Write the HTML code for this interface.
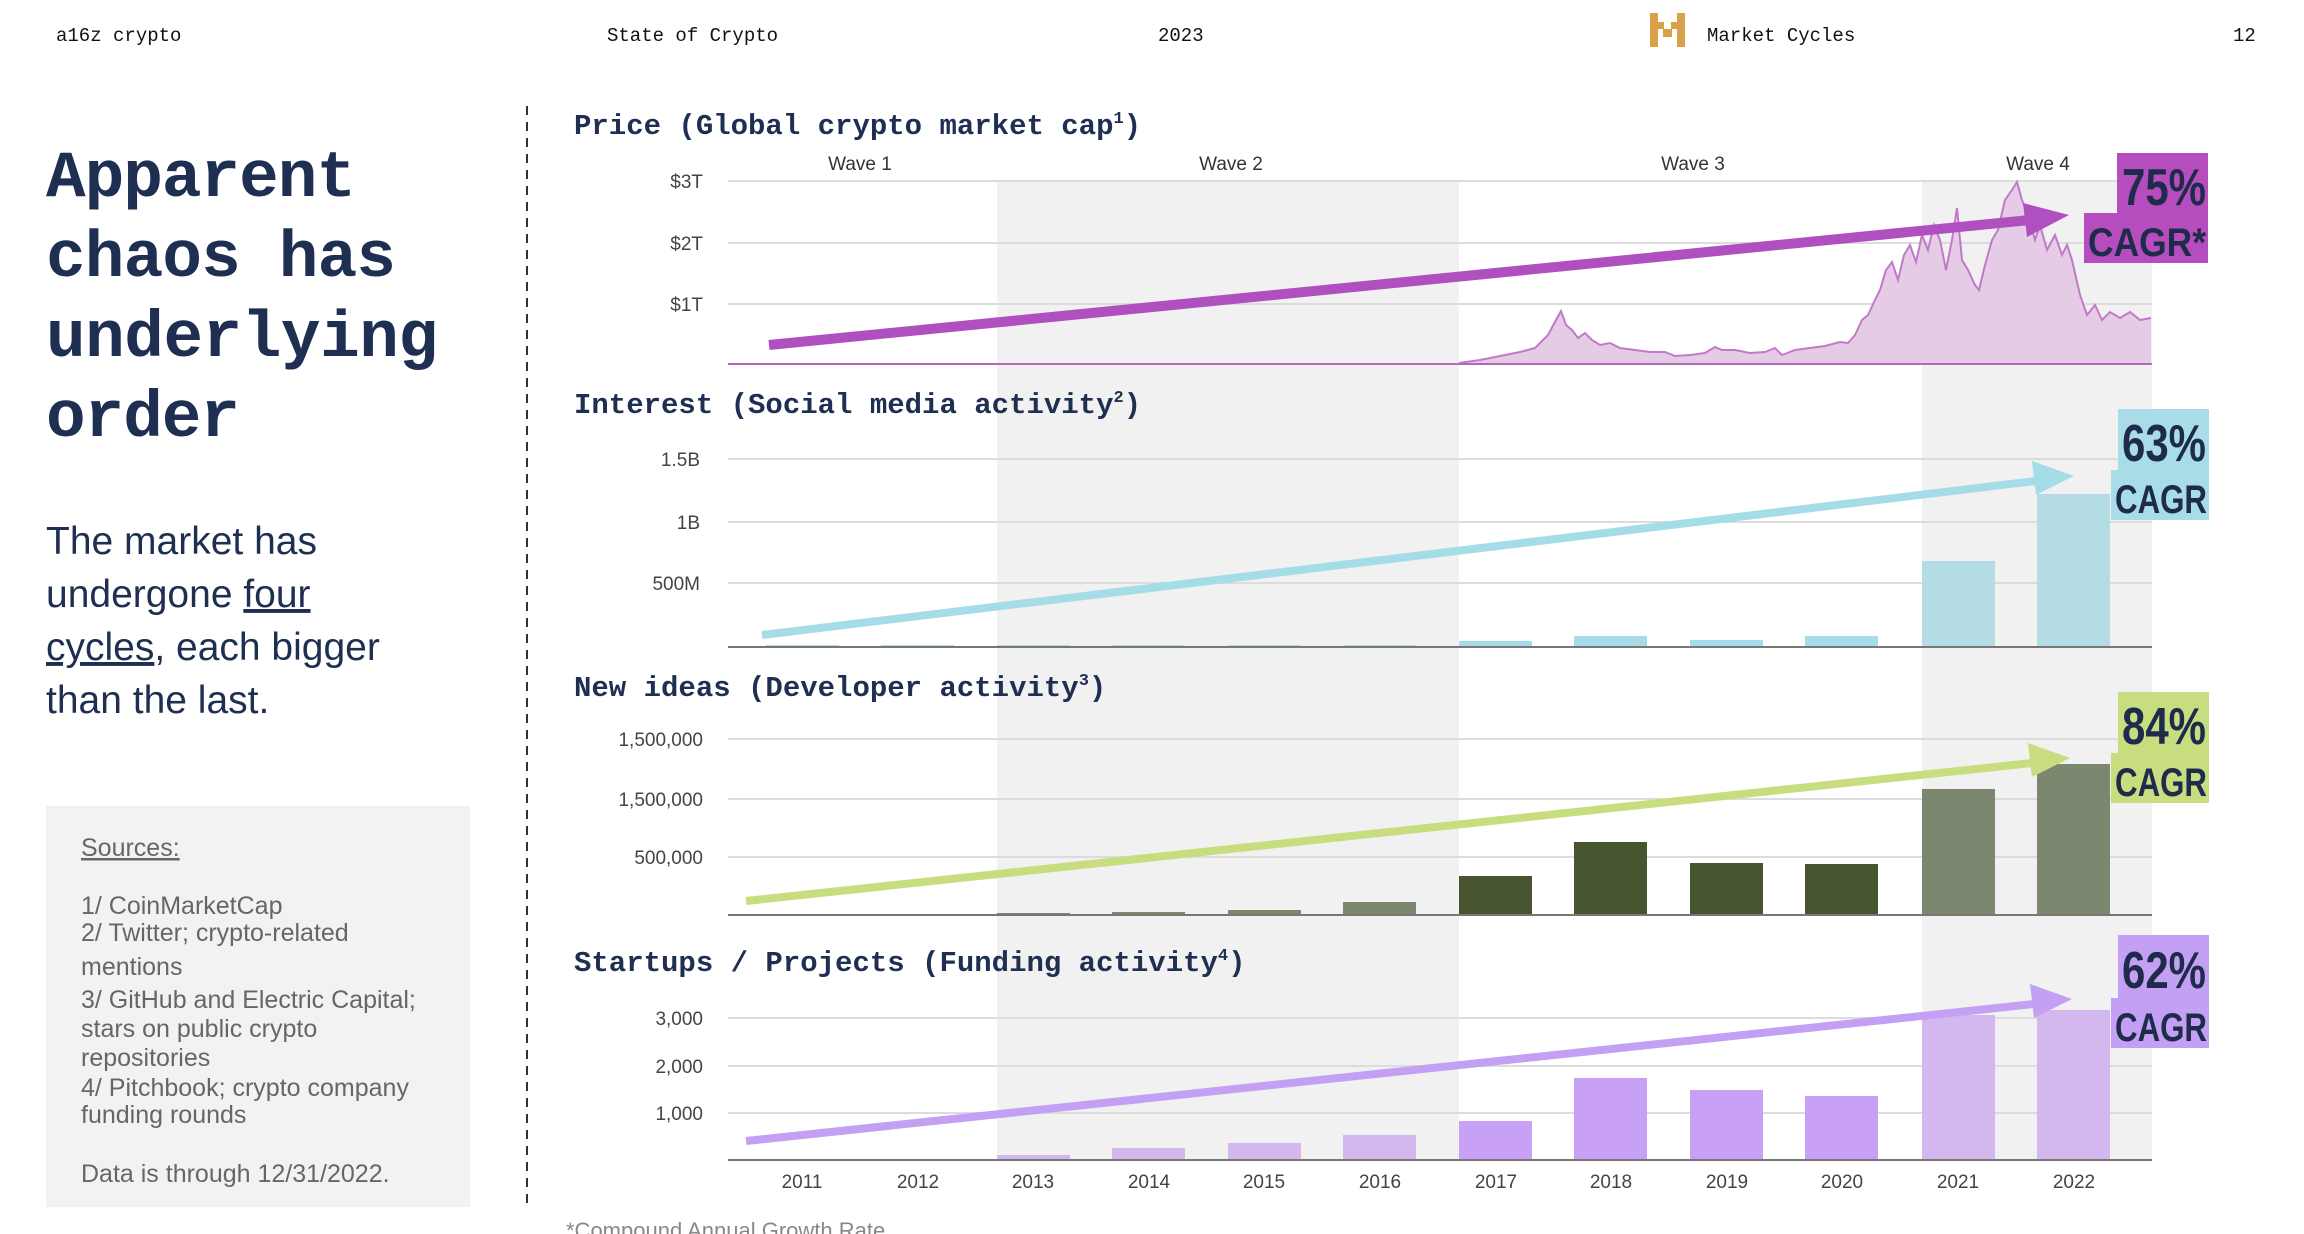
<!DOCTYPE html>
<html><head><meta charset="utf-8"><style>
html,body{margin:0;padding:0;background:#fff;}
body{width:2304px;height:1234px;overflow:hidden;position:relative;}
svg{position:absolute;left:0;top:0;}
.mono{font-family:"Liberation Mono","DejaVu Sans Mono",monospace;}
.sans{font-family:"Liberation Sans","DejaVu Sans",sans-serif;}
</style></head><body>
<svg width="2304" height="1234" viewBox="0 0 2304 1234" xmlns="http://www.w3.org/2000/svg">
<g class="mono" font-size="19" fill="#111">
<text x="56" y="41">a16z crypto</text>
<text x="607" y="41">State of Crypto</text>
<text x="1158" y="41">2023</text>
<text x="1707" y="41">Market Cycles</text>
<text x="2233" y="41">12</text>
</g>
<g fill="#d9a24a">
<rect x="1650" y="13" width="8" height="34"/><rect x="1677" y="13" width="8" height="34"/>
<rect x="1658" y="22" width="6" height="7"/><rect x="1671" y="22" width="6" height="7"/>
<rect x="1663" y="29" width="9" height="8"/>
</g>
<g class="mono" font-size="66" font-weight="bold" fill="#1e2f52">
<text x="46" y="196" textLength="310">Apparent</text>
<text x="46" y="276" textLength="350">chaos has</text>
<text x="46" y="356" textLength="392">underlying</text>
<text x="46" y="436" textLength="194">order</text>
</g>
<g class="sans" font-size="39" fill="#1e2f52">
<text x="46" y="554">The market has</text>
<text x="46" y="607">undergone <tspan text-decoration="underline">four</tspan></text>
<text x="46" y="660"><tspan text-decoration="underline">cycles</tspan>, each bigger</text>
<text x="46" y="713">than the last.</text>
</g>
<rect x="46" y="806" width="424" height="401" fill="#f2f2f2"/>
<g class="sans" font-size="25" fill="#666">
<text x="81" y="856" text-decoration="underline">Sources:</text>
<text x="81" y="914">1/ CoinMarketCap</text>
<text x="81" y="941">2/ Twitter; crypto-related</text>
<text x="81" y="975">mentions</text>
<text x="81" y="1008">3/ GitHub and Electric Capital;</text>
<text x="81" y="1037">stars on public crypto</text>
<text x="81" y="1066">repositories</text>
<text x="81" y="1096">4/ Pitchbook; crypto company</text>
<text x="81" y="1123">funding rounds</text>
<text x="81" y="1182">Data is through 12/31/2022.</text>
</g>
<line x1="527" y1="106" x2="527" y2="1207" stroke="#333" stroke-width="2" stroke-dasharray="9,7"/>
<rect x="997" y="181" width="462" height="979" fill="#f1f1f1"/>
<rect x="1922" y="181" width="230" height="979" fill="#f1f1f1"/>
<g stroke="#dcdcdc" stroke-width="2">
<line x1="728" y1="181" x2="2152" y2="181"/><line x1="728" y1="243" x2="2152" y2="243"/><line x1="728" y1="304" x2="2152" y2="304"/>
<line x1="728" y1="459" x2="2152" y2="459"/><line x1="728" y1="522" x2="2152" y2="522"/><line x1="728" y1="583" x2="2152" y2="583"/>
<line x1="728" y1="739" x2="2152" y2="739"/><line x1="728" y1="799" x2="2152" y2="799"/><line x1="728" y1="857" x2="2152" y2="857"/>
<line x1="728" y1="1018" x2="2152" y2="1018"/><line x1="728" y1="1066" x2="2152" y2="1066"/><line x1="728" y1="1113" x2="2152" y2="1113"/>
</g>
<g class="mono" font-size="29" font-weight="bold" fill="#1e2f52">
<text x="574" y="134">Price (Global crypto market cap<tspan font-size="17" dy="-11">1</tspan><tspan dy="11">)</tspan></text>
<text x="574" y="413">Interest (Social media activity<tspan font-size="17" dy="-11">2</tspan><tspan dy="11">)</tspan></text>
<text x="574" y="696">New ideas (Developer activity<tspan font-size="17" dy="-11">3</tspan><tspan dy="11">)</tspan></text>
<text x="574" y="971">Startups / Projects (Funding activity<tspan font-size="17" dy="-11">4</tspan><tspan dy="11">)</tspan></text>
</g>
<g class="sans" font-size="19" fill="#333" text-anchor="middle">
<text x="860" y="170">Wave 1</text><text x="1231" y="170">Wave 2</text><text x="1693" y="170">Wave 3</text><text x="2038" y="170">Wave 4</text>
</g>
<g class="sans" font-size="19" fill="#444" text-anchor="end">
<text x="703" y="188">$3T</text><text x="703" y="250">$2T</text><text x="703" y="311">$1T</text>
<text x="700" y="466">1.5B</text><text x="700" y="529">1B</text><text x="700" y="590">500M</text>
<text x="703" y="746">1,500,000</text><text x="703" y="806">1,500,000</text><text x="703" y="864">500,000</text>
<text x="703" y="1025">3,000</text><text x="703" y="1073">2,000</text><text x="703" y="1120">1,000</text>
</g>
<polygon fill="#e6cbe6" points="728,364 1380,364 1459,363 1480,360 1500,356 1520,352 1535,348 1548,335 1556,320 1561,311 1566,325 1572,330 1578,338 1585,333 1592,340 1600,345 1610,343 1620,348 1635,350 1650,352 1665,352 1675,356 1690,355 1705,353 1715,347 1722,350 1735,350 1750,353 1765,352 1775,348 1782,355 1795,350 1810,348 1825,346 1840,342 1848,343 1855,335 1862,320 1868,315 1875,300 1880,290 1886,270 1892,262 1898,280 1904,255 1910,245 1916,262 1922,235 1928,250 1934,225 1940,240 1946,270 1952,240 1957,208 1962,260 1968,270 1975,285 1979,290 1985,265 1992,240 1998,230 2005,200 2012,190 2017,182 2022,200 2028,215 2035,240 2040,225 2047,250 2055,235 2062,255 2067,245 2072,260 2080,295 2087,315 2095,305 2102,320 2110,312 2120,318 2130,312 2140,320 2151,318 2151,364"/>
<polyline fill="none" stroke="#c07ac8" stroke-width="2" points="1459,363 1480,360 1500,356 1520,352 1535,348 1548,335 1556,320 1561,311 1566,325 1572,330 1578,338 1585,333 1592,340 1600,345 1610,343 1620,348 1635,350 1650,352 1665,352 1675,356 1690,355 1705,353 1715,347 1722,350 1735,350 1750,353 1765,352 1775,348 1782,355 1795,350 1810,348 1825,346 1840,342 1848,343 1855,335 1862,320 1868,315 1875,300 1880,290 1886,270 1892,262 1898,280 1904,255 1910,245 1916,262 1922,235 1928,250 1934,225 1940,240 1946,270 1952,240 1957,208 1962,260 1968,270 1975,285 1979,290 1985,265 1992,240 1998,230 2005,200 2012,190 2017,182 2022,200 2028,215 2035,240 2040,225 2047,250 2055,235 2062,255 2067,245 2072,260 2080,295 2087,315 2095,305 2102,320 2110,312 2120,318 2130,312 2140,320 2151,318"/>
<line x1="728" y1="364" x2="2152" y2="364" stroke="#b068b8" stroke-width="2"/>
<g fill="#b3dce4">
<rect x="766" y="645" width="73" height="2"/><rect x="881" y="645" width="73" height="2"/><rect x="997" y="645" width="73" height="2"/><rect x="1112" y="645" width="73" height="2"/><rect x="1228" y="645" width="73" height="2"/><rect x="1343" y="645" width="73" height="2"/>
<rect x="1922" y="561" width="73" height="86"/><rect x="2037" y="494" width="73" height="153"/>
</g>
<g fill="#a6dbe7">
<rect x="1459" y="641" width="73" height="6"/><rect x="1574" y="636" width="73" height="11"/><rect x="1690" y="640" width="73" height="7"/><rect x="1805" y="636" width="73" height="11"/>
</g>
<line x1="728" y1="647" x2="2152" y2="647" stroke="#777" stroke-width="2"/>
<g fill="#7c8770">
<rect x="997" y="913" width="73" height="2"/><rect x="1112" y="912" width="73" height="3"/><rect x="1228" y="910" width="73" height="5"/><rect x="1343" y="902" width="73" height="13"/>
<rect x="1922" y="789" width="73" height="126"/><rect x="2037" y="764" width="73" height="151"/>
</g>
<g fill="#465530">
<rect x="1459" y="876" width="73" height="39"/><rect x="1574" y="842" width="73" height="73"/><rect x="1690" y="863" width="73" height="52"/><rect x="1805" y="864" width="73" height="51"/>
</g>
<line x1="728" y1="915" x2="2152" y2="915" stroke="#777" stroke-width="2"/>
<g fill="#d2b8ec">
<rect x="766" y="1159" width="73" height="1"/><rect x="881" y="1159" width="73" height="1"/>
<rect x="997" y="1155" width="73" height="5"/><rect x="1112" y="1148" width="73" height="12"/><rect x="1228" y="1143" width="73" height="17"/><rect x="1343" y="1135" width="73" height="25"/>
<rect x="1922" y="1015" width="73" height="145"/><rect x="2037" y="1010" width="73" height="150"/>
</g>
<g fill="#c8a0f5">
<rect x="1459" y="1121" width="73" height="39"/><rect x="1574" y="1078" width="73" height="82"/><rect x="1690" y="1090" width="73" height="70"/><rect x="1805" y="1096" width="73" height="64"/>
</g>
<line x1="728" y1="1160" x2="2152" y2="1160" stroke="#777" stroke-width="2"/>
<g class="sans" font-size="19" fill="#444" text-anchor="middle">
<text x="802" y="1188">2011</text><text x="918" y="1188">2012</text><text x="1033" y="1188">2013</text><text x="1149" y="1188">2014</text><text x="1264" y="1188">2015</text><text x="1380" y="1188">2016</text><text x="1496" y="1188">2017</text><text x="1611" y="1188">2018</text><text x="1727" y="1188">2019</text><text x="1842" y="1188">2020</text><text x="1958" y="1188">2021</text><text x="2074" y="1188">2022</text>
</g>
<text class="sans" x="566" y="1238" font-size="22" fill="#888">*Compound Annual Growth Rate</text>
<g stroke-linecap="butt">
<line x1="769" y1="345" x2="2030" y2="220" stroke="#b04fc0" stroke-width="10"/>
<polygon points="2069,215 2023,203 2027,237" fill="#b04fc0"/>
<line x1="762" y1="635" x2="2035" y2="481" stroke="#a4dce8" stroke-width="8"/>
<polygon points="2074,476 2032,461 2036,495" fill="#a4dce8"/>
<line x1="746" y1="901" x2="2032" y2="763" stroke="#c8dc80" stroke-width="8"/>
<polygon points="2070,758 2028,743 2032,777" fill="#c8dc80"/>
<line x1="746" y1="1141" x2="2034" y2="1004" stroke="#c4a0f4" stroke-width="8"/>
<polygon points="2072,999 2030,984 2034,1018" fill="#c4a0f4"/>
</g>
<rect x="2117" y="153" width="91" height="62" fill="#b54dbf"/><rect x="2084" y="213" width="124" height="50" fill="#b54dbf"/>
<rect x="2118" y="409" width="91" height="62" fill="#a8dde8"/><rect x="2111" y="470" width="98" height="50" fill="#a8dde8"/>
<rect x="2118" y="692" width="91" height="62" fill="#c8dc80"/><rect x="2111" y="753" width="98" height="50" fill="#c8dc80"/>
<rect x="2118" y="935" width="91" height="64" fill="#c4a0f4"/><rect x="2111" y="998" width="98" height="50" fill="#c4a0f4"/>
<g class="sans" font-weight="bold" fill="#1e2b4a">
<text x="2122" y="205" font-size="52" textLength="84" lengthAdjust="spacingAndGlyphs">75%</text>
<text x="2088" y="256" font-size="40" textLength="118" lengthAdjust="spacingAndGlyphs">CAGR*</text>
<text x="2122" y="461" font-size="52" textLength="84" lengthAdjust="spacingAndGlyphs">63%</text>
<text x="2115" y="513" font-size="40" textLength="92" lengthAdjust="spacingAndGlyphs">CAGR</text>
<text x="2122" y="744" font-size="52" textLength="84" lengthAdjust="spacingAndGlyphs">84%</text>
<text x="2115" y="796" font-size="40" textLength="92" lengthAdjust="spacingAndGlyphs">CAGR</text>
<text x="2122" y="988" font-size="52" textLength="84" lengthAdjust="spacingAndGlyphs">62%</text>
<text x="2115" y="1041" font-size="40" textLength="92" lengthAdjust="spacingAndGlyphs">CAGR</text>
</g>
</svg>
</body></html>
